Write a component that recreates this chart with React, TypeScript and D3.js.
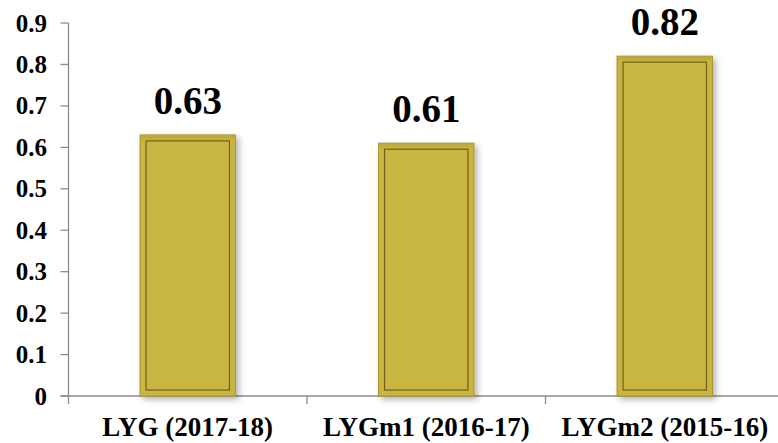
import { useMemo } from "react";
import * as d3 from "d3";

const WIDTH = 778;
const HEIGHT = 443;

const categories = ["LYG (2017-18)", "LYGm1 (2016-17)", "LYGm2 (2015-16)"];
const values = [0.63, 0.61, 0.82];
const yTicks = [0, 0.1, 0.2, 0.3, 0.4, 0.5, 0.6, 0.7, 0.8, 0.9];

const AXIS_X = 68.5;
const AXIS_Y = 396;
const TOP_Y = 23;
const RIGHT_X = 784;

const FONT = "'Liberation Serif', 'Times New Roman', serif";
const BAR_FILL = "#c9b541";
const AXIS_COLOR = "#8c8c8c";

export default function App() {
  const xScale = useMemo(
    () =>
      d3
        .scaleBand()
        .domain(categories)
        .range([AXIS_X, RIGHT_X])
        .paddingInner(0.6)
        .paddingOuter(0.3),
    []
  );
  const yScale = useMemo(
    () => d3.scaleLinear().domain([0, 0.9]).range([AXIS_Y, TOP_Y]),
    []
  );

  // category boundaries (ticks on the x axis)
  const step = xScale.step();
  const bandStart = (i: number) => AXIS_X + i * step;
  const bw = xScale.bandwidth();

  return (
    <div style={{ position: "fixed", left: 0, top: 0 }}>
      <svg width={WIDTH} height={HEIGHT} style={{ display: "block", background: "#fff" }}>
        <defs>
          <filter id="shadow" x="-20%" y="-20%" width="140%" height="140%">
            <feGaussianBlur in="SourceAlpha" stdDeviation="3" />
            <feOffset dx="3" dy="3" result="blur" />
            <feComponentTransfer>
              <feFuncA type="linear" slope="0.3" />
            </feComponentTransfer>
            <feMerge>
              <feMergeNode />
              <feMergeNode in="SourceGraphic" />
            </feMerge>
          </filter>
          <linearGradient id="bevelTop" x1="0" y1="0" x2="0" y2="1">
            <stop offset="0%" stopColor="#b3a036" />
            <stop offset="100%" stopColor={BAR_FILL} />
          </linearGradient>
        </defs>

        {/* y axis */}
        <line x1={AXIS_X} x2={AXIS_X} y1={TOP_Y} y2={AXIS_Y} stroke={AXIS_COLOR} strokeWidth={1.3} />
        {yTicks.map((t) => (
          <g key={t}>
            <line
              x1={AXIS_X - 8}
              x2={AXIS_X}
              y1={yScale(t)}
              y2={yScale(t)}
              stroke={AXIS_COLOR}
              strokeWidth={1.3}
            />
            <text
              x={47}
              y={yScale(t)}
              dy="0.34em"
              textAnchor="end"
              fontFamily={FONT}
              fontWeight="bold"
              fontSize={25}
              fill="#000"
            >
              {t === 0 ? "0" : d3.format(".1f")(t)}
            </text>
          </g>
        ))}

        {/* x axis */}
        <line x1={AXIS_X - 8} x2={WIDTH} y1={AXIS_Y} y2={AXIS_Y} stroke={AXIS_COLOR} strokeWidth={1.3} />
        {[0, 1, 2, 3].map((i) => (
          <line
            key={i}
            x1={bandStart(i)}
            x2={bandStart(i)}
            y1={AXIS_Y}
            y2={AXIS_Y + 8}
            stroke={AXIS_COLOR}
            strokeWidth={1.3}
          />
        ))}

        {/* bars */}
        {categories.map((c, i) => {
          const x = xScale(c)!;
          const y = yScale(values[i]);
          const h = AXIS_Y - y;
          const inset = 6;
          return (
            <g key={c}>
              <rect
                x={x}
                y={y}
                width={bw}
                height={h}
                fill={BAR_FILL}
                stroke="#a8962f"
                strokeWidth={1}
                filter="url(#shadow)"
              />
              <rect x={x + 1} y={y + 1} width={bw - 2} height={inset - 1} fill="url(#bevelTop)" opacity={0.6} />
              <rect
                x={x + inset}
                y={y + inset}
                width={bw - 2 * inset}
                height={h - 2 * inset}
                fill={BAR_FILL}
                stroke="#6f6218"
                strokeWidth={1.2}
              />
              <text
                x={x + bw / 2}
                y={y - 21}
                textAnchor="middle"
                fontFamily={FONT}
                fontWeight="bold"
                fontSize={39}
                fill="#000"
              >
                {d3.format(".2f")(values[i])}
              </text>
              <text
                x={x + bw / 2}
                y={436}
                textAnchor="middle"
                fontFamily={FONT}
                fontWeight="bold"
                fontSize={27}
                fill="#000"
              >
                {c}
              </text>
            </g>
          );
        })}
      </svg>
    </div>
  );
}
